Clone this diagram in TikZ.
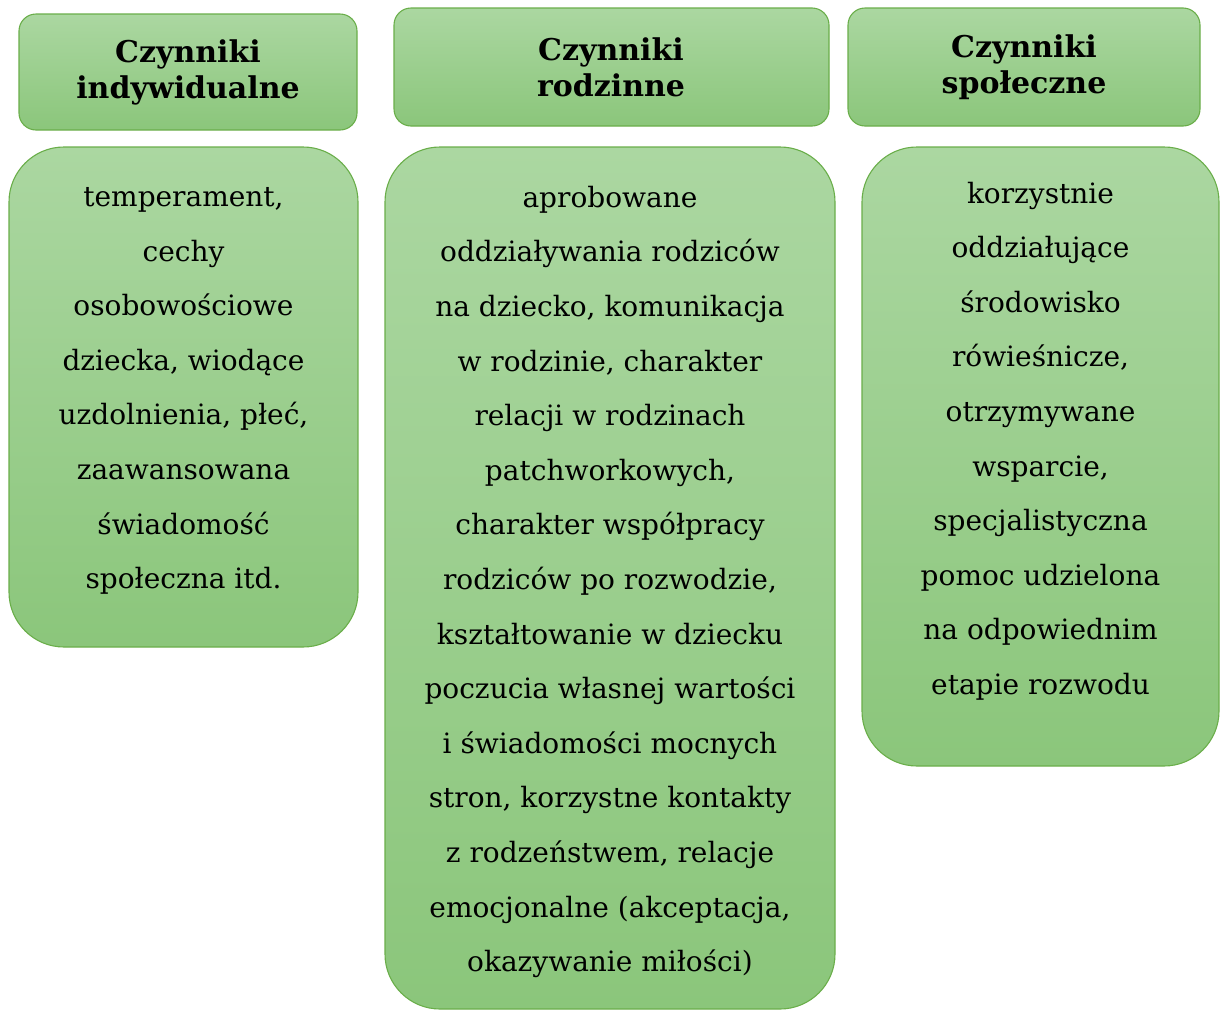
\documentclass[tikz,border=0pt]{standalone}
\usepackage{fontspec}
\setmainfont{DejaVu Serif}
\definecolor{gtop}{RGB}{171,215,161}
\definecolor{gbot}{RGB}{139,198,123}
\definecolor{gline}{RGB}{106,174,74}
\begin{document}
\begin{tikzpicture}[x=1pt,y=-1pt,
  box/.style={draw=gline,line width=1.1pt,top color=gtop,bottom color=gbot,inner sep=0pt},
  head/.style={align=center,font=\fontsize{30}{36}\selectfont\bfseries,inner sep=0pt},
  body/.style={align=center,font=\fontsize{28}{54.6}\selectfont,inner sep=0pt}]
\useasboundingbox (0,0) rectangle (1224,1010);
% headers
\path[box,rounded corners=17pt] (19,14) rectangle (357,130);
\node[head] (h1) at (188,72) {Czynniki\\indywidualne};
\path[box,rounded corners=17pt] (394,8) rectangle (829,126);
\node[head] (h2) at (611,67) {Czynniki\\rodzinne};
\path[box,rounded corners=17pt] (848,8) rectangle (1200,126);
\node[head] (h3) at (1024,67) {Czynniki\\społeczne};
% bodies
\path[box,rounded corners=55pt] (9,147) rectangle (358,647);
\node[body] (b1) at (183.5,391) {temperament,\\cechy\\osobowościowe\\dziecka, wiodące\\uzdolnienia, płeć,\\zaawansowana\\świadomość\\społeczna itd.};
\path[box,rounded corners=55pt] (385,147) rectangle (835,1009);
\node[body] (b2) at (610,582) {aprobowane\\oddziaływania rodziców\\na dziecko, komunikacja\\w rodzinie, charakter\\relacji w rodzinach\\patchworkowych,\\charakter współpracy\\rodziców po rozwodzie,\\kształtowanie w dziecku\\poczucia własnej wartości\\i świadomości mocnych\\stron, korzystne kontakty\\z rodzeństwem, relacje\\emocjonalne (akceptacja,\\okazywanie miłości)};
\path[box,rounded corners=55pt] (862,147) rectangle (1219,766);
\node[body] (b3) at (1040.5,441) {korzystnie\\oddziałujące\\środowisko\\rówieśnicze,\\otrzymywane\\wsparcie,\\specjalistyczna\\pomoc udzielona\\na odpowiednim\\etapie rozwodu};
\end{tikzpicture}
\end{document}
